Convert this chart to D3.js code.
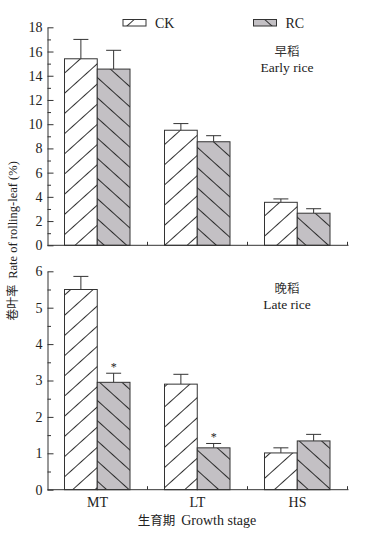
<!DOCTYPE html>
<html>
<head>
<meta charset="utf-8">
<script src="https://cdn.jsdelivr.net/npm/d3@7"></script>
<style>
  html, body { margin: 0; padding: 0; background: #fff; }
  svg { display: block; }
</style>
</head>
<body>
<div id="chart"></div>
<script>
/* rolling-leaf rate, CK vs RC, early and late rice */

var stages  = ['MT', 'LT', 'HS'];
var series  = ['CK', 'RC'];

var earlyCK    = [15.4, 9.5, 3.55];
var earlyCKErr = [1.6, 0.55, 0.28];
var earlyRC    = [14.55, 8.55, 2.65];
var earlyRCErr = [1.55, 0.5, 0.37];

var lateCK    = [5.5, 2.9, 1.01];
var lateCKErr = [0.36, 0.27, 0.14];
var lateRC    = [2.95, 1.15, 1.34];
var lateRCErr = [0.25, 0.12, 0.18];
var lateRCSig = ['*', '*', ''];

var earlyTicks = [0, 2, 4, 6, 8, 10, 12, 14, 16, 18];
var lateTicks  = [0, 1, 2, 3, 4, 5, 6];

var W = 370, H = 542;
var SERIF = '"Liberation Serif", "Times New Roman", serif';
var CJK   = '"Noto Sans CJK SC", sans-serif';
var INK   = '#333';

var svg = d3.select('#chart').append('svg')
  .attr('width', W).attr('height', H);

/* hatch patterns */
var defs = svg.append('defs');
function hatch(id, fill, angle) {
  var p = defs.append('pattern')
    .attr('id', id)
    .attr('patternUnits', 'userSpaceOnUse')
    .attr('width', 15).attr('height', 15)
    .attr('patternTransform', 'rotate(' + angle + ')');
  p.append('rect').attr('width', 15).attr('height', 15).attr('fill', fill);
  p.append('line')
    .attr('x1', 7.5).attr('y1', -1).attr('x2', 7.5).attr('y2', 16)
    .attr('stroke', '#1a1a1a').attr('stroke-width', 0.9);
}
hatch('hCK', '#ffffff', 48);
hatch('hRC', '#c3c0c4', -48);
var fills = { CK: 'url(#hCK)', RC: 'url(#hRC)' };

/* shared x */
var xL = 47.5, xR = 347.5;
var x0 = d3.scaleBand().domain(stages).range([xL, xR]);
var x1 = d3.scaleBand().domain(series).range([17, 82.5]);

function panel(yTop, yBot, maxV, ticks, ck, ckErr, rc, rcErr, sig, showLabels) {
  var y = d3.scaleLinear().domain([0, maxV]).range([yBot, yTop]);
  var g = svg.append('g');

  var rows = stages.map(function (s, i) {
    return [
      { stage: s, key: 'CK', v: ck[i], e: ckErr[i], sig: '' },
      { stage: s, key: 'RC', v: rc[i], e: rcErr[i], sig: sig ? sig[i] : '' }
    ];
  });
  var data = [].concat.apply([], rows);

  /* error bars (upper only) */
  var eb = g.selectAll('g.err').data(data).enter().append('g');
  eb.append('line')
    .attr('x1', function (d) { return x0(d.stage) + x1(d.key) + x1.bandwidth() / 2; })
    .attr('x2', function (d) { return x0(d.stage) + x1(d.key) + x1.bandwidth() / 2; })
    .attr('y1', function (d) { return y(d.v); })
    .attr('y2', function (d) { return y(d.v + d.e); })
    .attr('stroke', INK).attr('stroke-width', 1);
  eb.append('line')
    .attr('x1', function (d) { return x0(d.stage) + x1(d.key) + x1.bandwidth() / 2 - 7.5; })
    .attr('x2', function (d) { return x0(d.stage) + x1(d.key) + x1.bandwidth() / 2 + 7.5; })
    .attr('y1', function (d) { return y(d.v + d.e); })
    .attr('y2', function (d) { return y(d.v + d.e); })
    .attr('stroke', INK).attr('stroke-width', 1);
  eb.filter(function (d) { return d.sig; }).append('text')
    .attr('x', function (d) { return x0(d.stage) + x1(d.key) + x1.bandwidth() / 2; })
    .attr('y', function (d) { return y(d.v + d.e) - 2; })
    .attr('text-anchor', 'middle')
    .attr('font-family', SERIF).attr('font-size', 12).attr('fill', '#222')
    .text(function (d) { return d.sig; });

  /* bars */
  g.selectAll('rect.bar').data(data).enter().append('rect')
    .attr('x', function (d) { return x0(d.stage) + x1(d.key); })
    .attr('y', function (d) { return y(d.v); })
    .attr('width', x1.bandwidth())
    .attr('height', function (d) { return y(0) - y(d.v); })
    .attr('fill', function (d) { return fills[d.key]; })
    .attr('stroke', INK).attr('stroke-width', 1);

  /* y axis: inward ticks, minor ticks halfway */
  var step = ticks[1] - ticks[0];
  var minor = ticks.slice(0, -1).map(function (t) { return t + step / 2; });
  g.append('g')
    .attr('transform', 'translate(' + xL + ',0)')
    .call(d3.axisLeft(y).tickValues(minor).tickSize(-3.5).tickFormat(''))
    .call(function (a) { a.select('.domain').remove(); });
  var ax = g.append('g')
    .attr('transform', 'translate(' + xL + ',0)')
    .call(d3.axisLeft(y).tickValues(ticks).tickSizeInner(-6).tickSizeOuter(0).tickPadding(5)
      .tickFormat(d3.format('d')));
  ax.selectAll('line, path').attr('stroke', INK);
  ax.selectAll('text').attr('font-family', SERIF).attr('font-size', 14).attr('fill', '#222');
  g.selectAll('.tick line').attr('stroke', INK);

  /* x axis: baseline with small inward ticks at group bounds */
  var xa = g.append('g')
    .attr('transform', 'translate(0,' + yBot + ')');
  xa.append('line')
    .attr('x1', xL).attr('x2', xR + 1).attr('y1', 0).attr('y2', 0)
    .attr('stroke', INK).attr('stroke-width', 1);
  xa.selectAll('line.xt').data(stages).enter().append('line')
    .attr('x1', function (s) { return x0(s) + x0.bandwidth(); })
    .attr('x2', function (s) { return x0(s) + x0.bandwidth(); })
    .attr('y1', 0).attr('y2', -3.5)
    .attr('stroke', INK).attr('stroke-width', 1);
  if (showLabels) {
    xa.selectAll('text').data(stages).enter().append('text')
      .attr('x', function (s) { return x0(s) + x0.bandwidth() / 2; })
      .attr('y', 17)
      .attr('text-anchor', 'middle')
      .attr('font-family', SERIF).attr('font-size', 14).attr('fill', '#222')
      .text(function (s) { return s; });
  }
  return y;
}

panel(27.3, 245.3, 18, earlyTicks, earlyCK, earlyCKErr, earlyRC, earlyRCErr, null, false);
panel(271.3, 489.7, 6, lateTicks, lateCK, lateCKErr, lateRC, lateRCErr, lateRCSig, true);

/* panel notes */
function note(cx, y1, zh, en) {
  svg.append('text').attr('x', cx).attr('y', y1)
    .attr('text-anchor', 'middle').attr('font-family', CJK).attr('font-size', 12.5).attr('fill', '#333')
    .text(zh);
  svg.append('text').attr('x', cx).attr('y', y1 + 16)
    .attr('text-anchor', 'middle').attr('font-family', SERIF).attr('font-size', 13.5).attr('fill', '#222')
    .text(en);
}
note(287, 56, '早稻', 'Early rice');
note(287, 293, '晚稻', 'Late rice');

/* legend */
var legend = [{ key: 'CK', x: 123 }, { key: 'RC', x: 253.5 }];
var lg = svg.selectAll('g.leg').data(legend).enter().append('g')
  .attr('transform', function (d) { return 'translate(' + d.x + ',19.5)'; });
lg.append('rect')
  .attr('width', 23).attr('height', 6.5)
  .attr('fill', function (d) { return fills[d.key]; })
  .attr('stroke', INK).attr('stroke-width', 1);
lg.append('text')
  .attr('x', 32).attr('y', 8)
  .attr('font-family', SERIF).attr('font-size', 14).attr('fill', '#222')
  .text(function (d) { return d.key; });

/* axis titles */
var xt = svg.append('text')
  .attr('x', 197).attr('y', 525)
  .attr('text-anchor', 'middle').attr('fill', '#222');
xt.append('tspan').attr('font-family', CJK).attr('font-size', 12.5).text('生育期');
xt.append('tspan').attr('font-family', SERIF).attr('font-size', 14).attr('dx', 6).text('Growth stage');

var yt = svg.append('text')
  .attr('transform', 'translate(17,241) rotate(-90)')
  .attr('text-anchor', 'middle').attr('fill', '#222');
yt.append('tspan').attr('font-family', CJK).attr('font-size', 12).text('卷叶率');
yt.append('tspan').attr('font-family', SERIF).attr('font-size', 12.5).attr('dx', 6).text('Rate of rolling-leaf (%)');
</script>
</body>
</html>
